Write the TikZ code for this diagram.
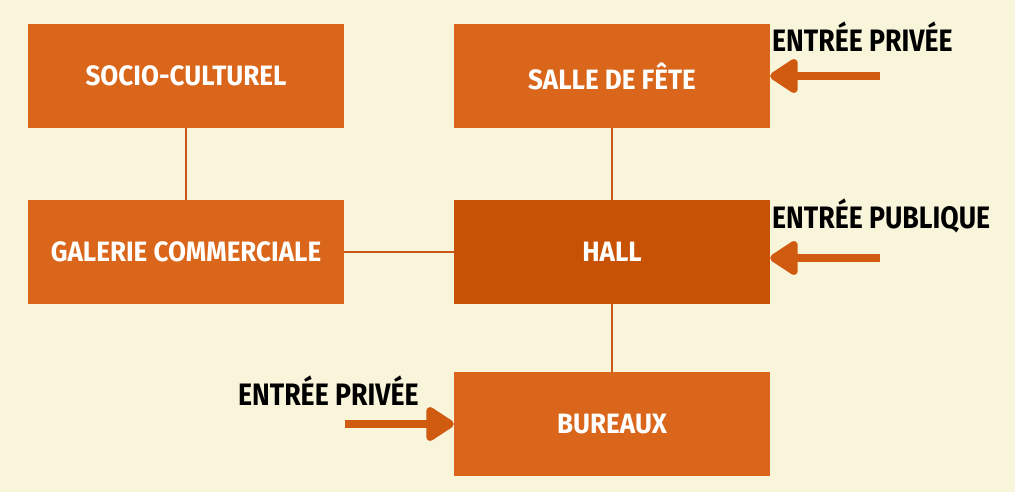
\documentclass[tikz,border=0pt]{standalone}
\usepackage{fontspec}
\setmainfont{Fira Sans}[FakeStretch=0.86]
\newfontfamily\boxfont{Fira Sans}[FakeStretch=0.93]
\usetikzlibrary{arrows.meta}
\definecolor{bg}{HTML}{F8F5DA}
\definecolor{boxc}{HTML}{D9661B}
\definecolor{hallc}{HTML}{C85204}
\definecolor{arrc}{HTML}{D05A10}
\definecolor{linec}{HTML}{C8581A}
\tikzset{
  x=1pt,y=-1pt,
  roombox/.style={fill=boxc, minimum width=316pt, minimum height=104pt, inner sep=0pt,
    text=white, font=\boxfont\bfseries\fontsize{28}{30}\selectfont},
  link/.style={draw=linec, line width=1.5pt},
  entry/.style={draw=arrc, line width=8pt, -{Triangle[length=31pt,width=38pt,round]}},
  entrylabel/.style={text=black, font=\bfseries\fontsize{31}{33}\selectfont, inner sep=0pt}
}
\begin{document}
\begin{tikzpicture}
\useasboundingbox[fill=bg] (0,0) rectangle (1015,492);
\node[roombox] (socio) at (186,76) {SOCIO-CULTUREL};
\node[roombox] (salle) at (612,76) {SALLE DE FÊTE};
\node[roombox] (galerie) at (186,252) {GALERIE COMMERCIALE};
\node[roombox, fill=hallc] (hall) at (612,252) {HALL};
\node[roombox] (bureaux) at (612,424) {BUREAUX};
\draw[link] (socio) -- (galerie);
\draw[link] (salle) -- (hall);
\draw[link] (galerie) -- (hall);
\draw[link] (hall) -- (bureaux);
\coordinate (t1) at (880,76);
\coordinate (t2) at (880,258);
\coordinate (t3) at (345,424);
\draw[entry] (t1) -- (salle.east);
\draw[entry] (t2) -- ([yshift=-6pt]hall.east);
\draw[entry] (t3) -- (bureaux.west);
\node[entrylabel, anchor=base west] (l1) at (772,52) {ENTRÉE PRIVÉE};
\node[entrylabel, anchor=base west] (l2) at (772,228) {ENTRÉE PUBLIQUE};
\node[entrylabel, anchor=base west] (l3) at (238,405) {ENTRÉE PRIVÉE};
\end{tikzpicture}
\end{document}
